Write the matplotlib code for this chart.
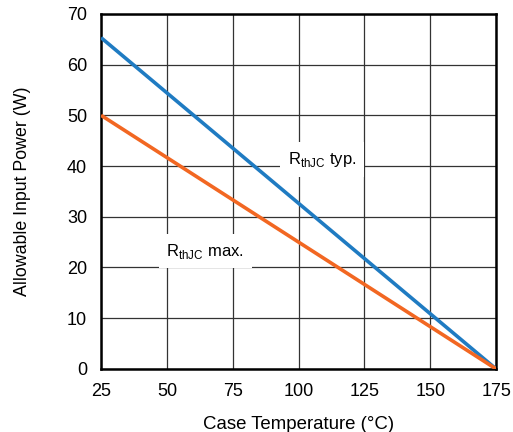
import matplotlib
matplotlib.use('Agg')
import matplotlib.pyplot as plt

# data
case_temp = [25, 175]
power_typ = [65.3, 0]
power_max = [50, 0]
x_ticks = [25, 50, 75, 100, 125, 150, 175]
y_ticks = [0, 10, 20, 30, 40, 50, 60, 70]

plt.rcParams['font.family'] = ['Liberation Sans', 'DejaVu Sans']

fig = plt.figure(figsize=(5.13, 4.32), dpi=100)
ax = fig.add_axes([0.197, 0.146, 0.770, 0.822])

ax.plot(case_temp, power_typ, color='#1f7bc2', lw=2.6, solid_capstyle='butt', zorder=3)
ax.plot(case_temp, power_max, color='#f26722', lw=2.6, solid_capstyle='butt', zorder=3)

ax.set_xlim(25, 175)
ax.set_ylim(0, 70)
ax.set_xticks(x_ticks)
ax.set_yticks(y_ticks)
ax.tick_params(length=0, labelsize=13, pad=10)
ax.grid(True, color='#333333', lw=0.9)
ax.set_axisbelow(True)
for s in ax.spines.values():
    s.set_linewidth(1.8)

ax.set_xlabel('Case Temperature (°C)', fontsize=13.4, labelpad=12)
ax.set_ylabel('Allowable Input Power (W)', fontsize=12.8, labelpad=26,
              family=['Liberation Sans Narrow', 'Liberation Sans', 'DejaVu Sans'])

box = dict(facecolor='white', edgecolor='none', pad=5.5)
ax.text(109, 41.3, r'R$_{\mathregular{thJC}}$ typ.', fontsize=12, ha='center', va='center',
        bbox=box, zorder=2)
ax.text(64.5, 23.2, r'R$_{\mathregular{thJC}}$ max.', fontsize=12, ha='center', va='center',
        bbox=box, zorder=2)

fig.savefig('out.png', dpi=100)
